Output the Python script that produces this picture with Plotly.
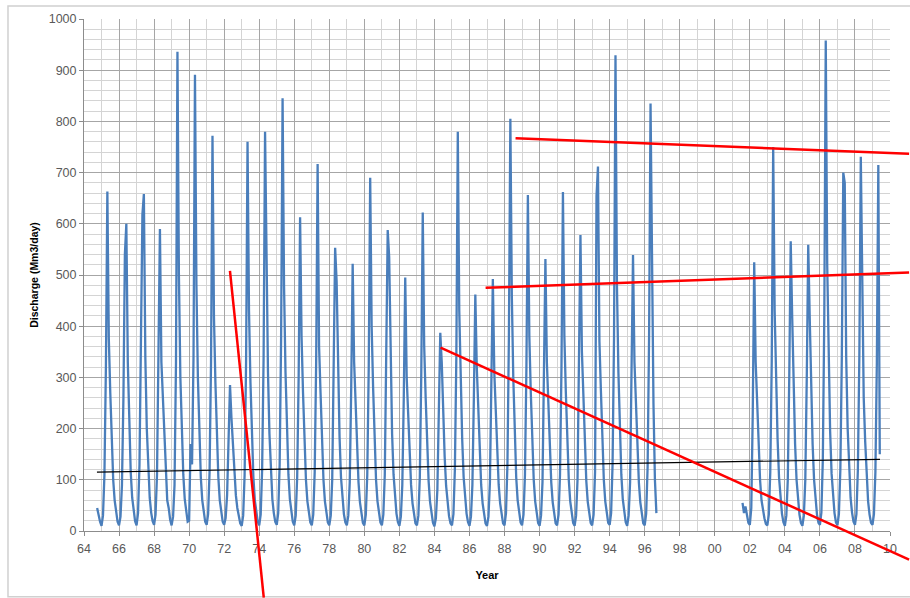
import plotly.graph_objects as go

# ---------------- data (monthly discharge, Mm3/day) ----------------
start_a = 1964 + 9 / 12   # Oct 1964
flow_1964_1980 = [
    45, 28, 18,                                                  # 1964 Oct-Dec
    10, 30, 110, 320, 663, 375, 270, 170, 100, 60, 34, 18,       # 1965
    11, 28, 90, 260, 540, 600, 330, 200, 115, 65, 36, 19,        # 1966
    11, 35, 130, 400, 618, 658, 340, 200, 115, 65, 36, 19,       # 1967
    12, 32, 110, 320, 590, 330, 260, 170, 100, 60, 45, 22,       # 1968
    11, 28, 90, 330, 936, 500, 300, 190, 110, 62, 34, 18,        # 1969
    20, 170, 130, 340, 891, 480, 300, 185, 105, 60, 33, 18,      # 1970
    12, 33, 115, 330, 772, 420, 290, 180, 105, 60, 34, 18,       # 1971
    12, 25, 70, 180, 285, 220, 160, 110, 70, 45, 28, 15,         # 1972
    10, 30, 110, 330, 760, 430, 290, 180, 105, 60, 34, 18,       # 1973
    11, 32, 120, 340, 780, 520, 310, 190, 110, 62, 35, 18,       # 1974
    12, 35, 130, 380, 845, 480, 310, 190, 110, 62, 35, 18,       # 1975
    11, 30, 105, 300, 613, 380, 270, 170, 100, 58, 32, 17,       # 1976
    11, 32, 115, 330, 717, 360, 270, 170, 100, 58, 32, 17,       # 1977
    11, 30, 100, 290, 553, 488, 300, 185, 105, 60, 33, 17,       # 1978
    11, 30, 95, 280, 522, 330, 250, 160, 95, 56, 31, 16,         # 1979
    11, 32, 110, 320, 690, 400, 280, 175, 100, 58, 32, 17,       # 1980
]
flow_1981_1996 = [
    11, 32, 110, 330, 588, 535, 310, 190, 110, 62, 34, 17,       # 1981
    10, 28, 90, 260, 495, 300, 230, 150, 90, 54, 30, 15,         # 1982
    11, 30, 105, 310, 622, 360, 260, 165, 98, 57, 32, 16,        # 1983
    9, 25, 80, 230, 387, 330, 220, 145, 88, 52, 29, 15,          # 1984
    11, 33, 120, 340, 780, 430, 290, 180, 105, 60, 34, 17,       # 1985
    10, 28, 90, 260, 462, 320, 230, 150, 90, 54, 30, 15,         # 1986
    10, 28, 95, 270, 492, 310, 230, 150, 90, 54, 30, 15,         # 1987
    11, 35, 130, 380, 805, 460, 300, 185, 105, 60, 34, 17,       # 1988
    11, 32, 110, 320, 656, 380, 270, 170, 100, 58, 32, 16,       # 1989
    10, 30, 95, 280, 531, 330, 245, 160, 95, 56, 31, 15,         # 1990
    11, 32, 110, 320, 662, 380, 270, 170, 100, 58, 32, 16,       # 1991
    10, 30, 100, 300, 578, 350, 255, 165, 98, 57, 31, 16,        # 1992
    11, 32, 115, 654, 712, 370, 275, 172, 100, 58, 32, 16,       # 1993
    12, 35, 130, 380, 929, 480, 310, 190, 110, 62, 35, 17,       # 1994
    10, 30, 95, 280, 539, 330, 245, 160, 95, 56, 31, 15,         # 1995
    11, 34, 125, 380, 835, 450, 250, 100, 35,                    # 1996 Jan-Sep
]

start_b = 2001 + 7 / 12   # Aug 2001
flow_2001_2009 = [
    55, 35, 48, 28, 16,                                          # 2001 Aug-Dec
    12, 45, 230, 525, 330, 240, 160, 100, 60, 40, 25, 14,        # 2002
    11, 32, 115, 330, 750, 430, 290, 180, 105, 60, 34, 17,       # 2003
    10, 30, 100, 300, 566, 420, 270, 170, 100, 58, 32, 16,       # 2004
    10, 30, 100, 300, 559, 420, 270, 170, 100, 58, 32, 16,       # 2005
    12, 36, 140, 420, 958, 520, 320, 195, 112, 63, 35, 17,       # 2006
    11, 33, 120, 340, 700, 680, 340, 200, 115, 65, 36, 18,       # 2007
    12, 33, 120, 340, 731, 420, 260, 175, 100, 58, 32, 16,       # 2008
    12, 33, 115, 330, 715, 150,                                  # 2009 Jan-Jun
]

# linear trend line (end points)
trend_years = [1964.74, 2009.43]
trend_values = [115, 140]

# red hand-drawn annotation lines (start / end in data units)
red_x0 = [1972.33, 1984.35, 1986.92, 1988.63]
red_y0 = [508, 358, 475, 767]
red_x1 = [1974.26, 2011.09, 2011.09, 2011.09]
red_y1 = [-130, -56, 505, 737]

x_tick_years = list(range(1964, 2011, 2))
x_tick_labels = [f"{y % 100:02d}" for y in x_tick_years]

x_range = [1964, 2010]
y_range = [0, 1000]

# ---------------- build ----------------
flow_a = flow_1964_1980 + flow_1981_1996
t_a = [start_a + i / 12 for i in range(len(flow_a))]
t_b = [start_b + i / 12 for i in range(len(flow_2001_2009))]

xs = t_a + [None] + t_b
ys = flow_a + [None] + flow_2001_2009

fig = go.Figure()
fig.add_trace(go.Scatter(x=xs, y=ys, mode="lines",
                         line=dict(color="#4A7EBB", width=2.3),
                         connectgaps=False, showlegend=False, hoverinfo="skip"))
fig.add_trace(go.Scatter(x=trend_years, y=trend_values, mode="lines",
                         line=dict(color="#000000", width=1.2),
                         showlegend=False, hoverinfo="skip"))


def to_px(x):
    return (x - x_range[0]) / (x_range[1] - x_range[0])


def to_py(y):
    return (y - y_range[0]) / (y_range[1] - y_range[0])


shapes = []
# chart frame
shapes.append(dict(type="rect", xref="paper", yref="paper",
                   x0=-0.0943, x1=1.03, y0=-0.1284, y1=1.0253,
                   line=dict(color="#d0d0d0", width=1.5), layer="below"))
for a, b, c, d in zip(red_x0, red_y0, red_x1, red_y1):
    shapes.append(dict(type="line", xref="paper", yref="paper",
                       x0=to_px(a), y0=to_py(b), x1=to_px(c), y1=to_py(d),
                       line=dict(color="#FF0000", width=2.5), layer="above"))

tick_font = dict(family="Liberation Sans, Arial, sans-serif", size=12.5, color="#595959")

fig.update_layout(
    width=910, height=598,
    margin=dict(l=84, r=20, t=17, b=67),
    paper_bgcolor="white", plot_bgcolor="white",
    shapes=shapes,
    xaxis=dict(range=x_range, tickmode="array", tickvals=x_tick_years, ticktext=x_tick_labels,
               showgrid=True, gridcolor="#a6a6a6", gridwidth=1,
               minor=dict(dtick=1, tick0=1964, showgrid=True, gridcolor="#d4d4d4", gridwidth=1),
               showline=True, linecolor="#8c8c8c", linewidth=1,
               ticks="outside", ticklen=4, tickcolor="#8c8c8c", ticklabelstandoff=2,
               tickfont=tick_font, zeroline=False,
               title=dict(text="<b>Year</b>", font=dict(family="Liberation Sans, Arial, sans-serif",
                                                         size=11, color="#000000"), standoff=16)),
    yaxis=dict(range=y_range, tickmode="linear", tick0=0, dtick=100,
               showgrid=True, gridcolor="#a6a6a6", gridwidth=1,
               minor=dict(dtick=20, tick0=0, showgrid=True, gridcolor="#d4d4d4", gridwidth=1),
               showline=True, linecolor="#8c8c8c", linewidth=1,
               ticks="outside", ticklen=4, tickcolor="#8c8c8c",
               tickfont=tick_font, zeroline=False,
               title=dict(text="<b>Discharge (Mm3/day)</b>",
                          font=dict(family="Liberation Sans, Arial, sans-serif", size=10.5, color="#000000"),
                          standoff=8)),
)

fig.write_html("out.html", post_script="document.body.style.margin='0';",
               config={"displayModeBar": False})
